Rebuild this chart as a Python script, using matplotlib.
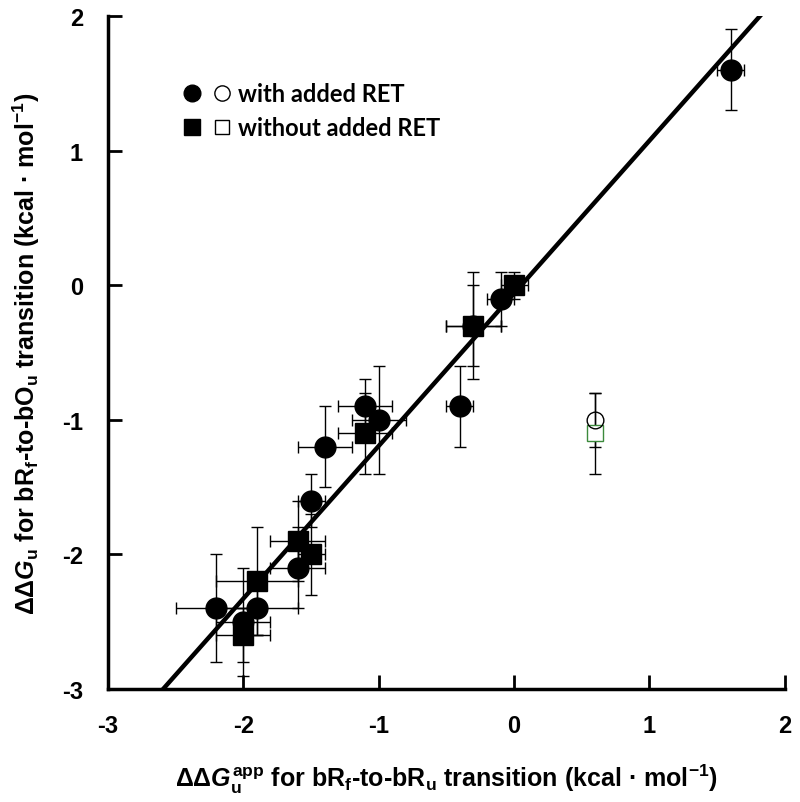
import matplotlib
matplotlib.use("Agg")
import matplotlib.pyplot as plt
from matplotlib.legend_handler import HandlerTuple
from matplotlib.lines import Line2D
import numpy as np

plt.rcParams['font.family'] = ['Liberation Sans', 'DejaVu Sans']
plt.rcParams['mathtext.fontset'] = 'custom'
plt.rcParams['mathtext.rm'] = 'Liberation Sans:bold'
plt.rcParams['mathtext.it'] = 'Liberation Sans:italic:bold'
plt.rcParams['mathtext.bf'] = 'Liberation Sans:bold'

# with added RET (filled circles)
circ_x = [1.6, -0.1, -0.3, -0.4, -1.1, -1.0, -1.4, -1.5, -1.6, -2.2, -1.9, -2.0]
circ_y = [1.6, -0.1, -0.3, -0.9, -0.9, -1.0, -1.2, -1.6, -2.1, -2.4, -2.4, -2.5]
circ_xerr = [0.1, 0.1, 0.2, 0.1, 0.2, 0.2, 0.2, 0.1, 0.2, 0.3, 0.3, 0.2]
circ_yerr = [0.3, 0.2, 0.3, 0.3, 0.2, 0.4, 0.3, 0.2, 0.3, 0.4, 0.2, 0.4]

# without added RET (filled squares)
sq_x = [0.0, -0.3, -1.1, -1.6, -1.5, -1.9, -2.0]
sq_y = [0.0, -0.3, -1.1, -1.9, -2.0, -2.2, -2.6]
sq_xerr = [0.1, 0.2, 0.2, 0.2, 0.1, 0.3, 0.2]
sq_yerr = [0.1, 0.4, 0.3, 0.3, 0.3, 0.4, 0.2]

# outlier (open symbols)
open_circ_x, open_circ_y, open_circ_yerr = [0.6], [-1.0], [0.2]
open_sq_x, open_sq_y, open_sq_yerr = [0.6], [-1.1], [0.3]

# regression line
fit_slope = 1.134
fit_intercept = -0.06

xticks = [-3, -2, -1, 0, 1, 2]
yticks = [-3, -2, -1, 0, 1, 2]

fig = plt.figure(figsize=(8, 8.03), dpi=100)
ax = fig.add_axes([0.135, 0.1407, 0.846, 0.8381])

eb = dict(fmt='none', ecolor='black', elinewidth=1.0, capsize=4, capthick=1.0, zorder=2)
ax.errorbar(circ_x, circ_y, xerr=circ_xerr, yerr=circ_yerr, **eb)
ax.errorbar(sq_x, sq_y, xerr=sq_xerr, yerr=sq_yerr, **eb)
ax.errorbar(open_circ_x, open_circ_y, yerr=open_circ_yerr, **eb)
ax.errorbar(open_sq_x, open_sq_y, yerr=open_sq_yerr, **eb)

ax.plot(circ_x, circ_y, 'o', color='black', ms=15, zorder=3)
ax.plot(sq_x, sq_y, 's', color='black', ms=15, zorder=4)
ax.plot(open_sq_x, open_sq_y, 's', mfc='white', mec='#3c8a3c', mew=1.0, ms=11, zorder=3)
ax.plot(open_circ_x, open_circ_y, 'o', mfc='none', mec='black', mew=1.0, ms=12, zorder=4)

xl = np.array([-3.5, 2.5])
ax.plot(xl, fit_slope * xl + fit_intercept, color='black', lw=3.2, zorder=5)

ax.set_xlim(-3, 2)
ax.set_ylim(-3, 2)
ax.set_xticks(xticks)
ax.set_yticks(yticks)
ax.set_xticklabels([str(t) for t in xticks], fontsize=17, fontweight='bold')
ax.set_yticklabels([str(t) for t in yticks], fontsize=17, fontweight='bold')
ax.tick_params(direction='in', length=10, width=2)
ax.tick_params(axis='x', pad=18)
ax.tick_params(axis='y', pad=18)
for s in ['top', 'right']:
    ax.spines[s].set_visible(False)
for s in ['left', 'bottom']:
    ax.spines[s].set_linewidth(2.5)

ax.set_xlabel(r'$\Delta\Delta G_\mathrm{u}^\mathrm{app}$ for bR$_\mathrm{f}$-to-bR$_\mathrm{u}$ transition (kcal · mol$^\mathrm{-1}$)',
              fontsize=18, fontweight='bold', labelpad=18)
ax.set_ylabel(r'$\Delta\Delta G_\mathrm{u}$ for bR$_\mathrm{f}$-to-bO$_\mathrm{u}$ transition (kcal · mol$^\mathrm{-1}$)',
              fontsize=18, fontweight='bold', labelpad=14)

h1a = Line2D([], [], marker='o', ls='none', color='black', ms=12)
h1b = Line2D([], [], marker='o', ls='none', mfc='none', mec='black', mew=1.0, ms=11)
h2a = Line2D([], [], marker='s', ls='none', color='black', ms=11)
h2b = Line2D([], [], marker='s', ls='none', mfc='none', mec='black', mew=1.0, ms=10)
ax.legend([(h1a, h1b), (h2a, h2b)], ['with added RET', 'without added RET'],
          handler_map={tuple: HandlerTuple(ndivide=None, pad=0.6)},
          loc='upper left', bbox_to_anchor=(0.08, 0.933), frameon=False,
          prop={'family': 'Lato', 'weight': 'bold', 'size': 17},
          handlelength=2.0, handletextpad=0.3, labelspacing=0.45)

fig.savefig('out.png', dpi=100)
